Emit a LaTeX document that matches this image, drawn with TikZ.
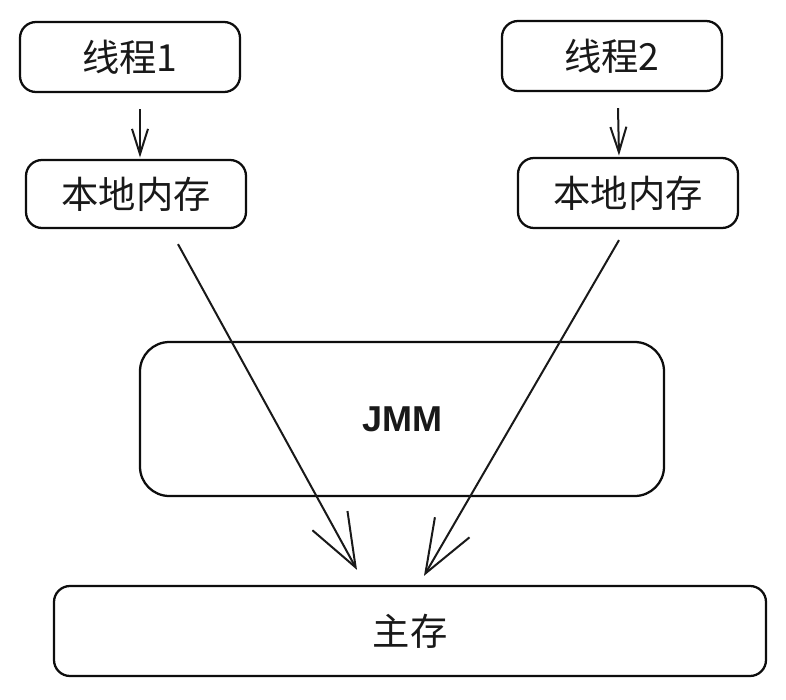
\documentclass[tikz,border=0pt]{standalone}
\usepackage{fontspec}
\setmainfont{Liberation Sans}
\newfontfamily\cjk{Noto Sans CJK SC}
\usetikzlibrary{arrows.meta}
\tikzset{
  box/.style={draw=black!95, line width=1.7pt, rounded corners=12pt, inner sep=0pt, font=\cjk\fontsize{28}{30}\selectfont, text=black!90},
  arr/.style={draw=black!90, line width=1.5pt, -{Straight Barb[length=19pt,width=12pt,line width=1.5pt]}},
  bigarr/.style={draw=black!90, line width=1.5pt, -{Straight Barb[length=40pt,width=30pt,line width=1.5pt]}},
}
\begin{document}
\begin{tikzpicture}[x=0.75pt,y=-0.75pt]
\useasboundingbox[fill=white] (0,0) rectangle (786,700);
\node[box, minimum width=165pt, minimum height=52.5pt] (t1) at (130,57) {线程1};
\node[box, minimum width=165pt, minimum height=52.5pt] (t2) at (612,56) {线程2};
\node[box, minimum width=165pt, minimum height=51pt] (m1) at (136,194) {本地内存};
\node[box, minimum width=165pt, minimum height=52.5pt] (m2) at (628,193) {本地内存};
\node[box, rounded corners=22pt, minimum width=393pt, minimum height=115.5pt, font=\bfseries\fontsize{27}{30}\selectfont] (jmm) at (402,419) {JMM};
\node[box, minimum width=534pt, minimum height=67.5pt] (main) at (410,631) {主存};
\draw[arr] ([xshift=7.5pt,yshift=-12pt]t1.south) -- ([xshift=3pt,yshift=1pt]m1.north);
\draw[arr] ([xshift=4.5pt,yshift=-12pt]t2.south) -- ([xshift=-6.75pt,yshift=1pt]m2.north);
\draw[bigarr] ([xshift=31.5pt,yshift=-11.25pt]m1.south) -- ([xshift=-39.75pt,yshift=11.25pt]main.north);
\draw[bigarr] ([xshift=-6.75pt,yshift=-8.25pt]m2.south) -- ([xshift=10.5pt,yshift=6.75pt]main.north);
\end{tikzpicture}
\end{document}
